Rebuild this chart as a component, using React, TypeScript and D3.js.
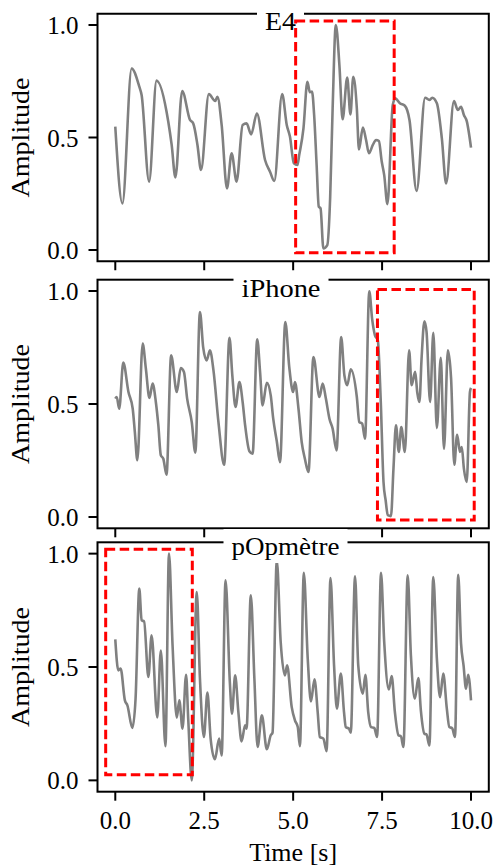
import * as d3 from 'd3'

// time axis ticks (s) and amplitude ticks, shared by the three panels
const timeTicks = [0, 2.5, 5, 7.5, 10]
const ampTicks = [0, 0.5, 1]
const panelTitles = ['E4', 'iPhone', 'pOpmètre']

// normalised signals: [time s, amplitude]
const e4Signal: [number, number][] = [
    [0, 0.548], [0.2, 0.207], [0.46, 0.807], [0.675, 0.726], [0.74, 0.689],
    [0.95, 0.304], [1.16, 0.753], [1.49, 0.57], [1.585, 0.467], [1.69, 0.323],
    [1.88, 0.707], [2.1, 0.578], [2.19, 0.563], [2.31, 0.467], [2.41, 0.356],
    [2.63, 0.693], [2.81, 0.662], [2.87, 0.681], [2.99, 0.556], [3.14, 0.274],
    [3.27, 0.43], [3.41, 0.304], [3.58, 0.556], [3.69, 0.563], [3.82, 0.514],
    [3.98, 0.607], [4.21, 0.4], [4.35, 0.348], [4.47, 0.307], [4.69, 0.693],
    [4.82, 0.556], [4.91, 0.504], [5.02, 0.385], [5.12, 0.378], [5.17, 0.422],
    [5.29, 0.541], [5.4, 0.748], [5.47, 0.701], [5.53, 0.704], [5.59, 0.6],
    [5.66, 0.378], [5.72, 0.193], [5.77, 0.185], [5.85, 0.007], [5.96, 0.022],
    [6.04, 0.231], [6.11, 0.63], [6.2, 1.0], [6.3, 0.822], [6.39, 0.581],
    [6.52, 0.766], [6.61, 0.603], [6.69, 0.77], [6.79, 0.63], [6.85, 0.447],
    [6.96, 0.544], [7.05, 0.489], [7.13, 0.43], [7.24, 0.467], [7.33, 0.489],
    [7.41, 0.484], [7.49, 0.393], [7.56, 0.333], [7.65, 0.204], [7.8, 0.644],
    [7.87, 0.674], [8.0, 0.652], [8.14, 0.641], [8.27, 0.578], [8.47, 0.262],
    [8.71, 0.677], [8.83, 0.667], [8.91, 0.677], [9.04, 0.652], [9.18, 0.496],
    [9.3, 0.296], [9.52, 0.662], [9.63, 0.622], [9.72, 0.637], [9.8, 0.6],
    [9.88, 0.573], [10.0, 0.455],
]

const iphoneSignal: [number, number][] = [
    [0, 0.524], [0.04, 0.531], [0.11, 0.479], [0.225, 0.683], [0.37, 0.553],
    [0.49, 0.479], [0.55, 0.376], [0.62, 0.251], [0.77, 0.767], [0.86, 0.656],
    [0.96, 0.527], [1.05, 0.59], [1.14, 0.509], [1.21, 0.406], [1.28, 0.273],
    [1.35, 0.258], [1.44, 0.187], [1.57, 0.715], [1.73, 0.553], [1.84, 0.659],
    [1.93, 0.642], [2.02, 0.524], [2.15, 0.42], [2.25, 0.285], [2.38, 0.907],
    [2.47, 0.752], [2.57, 0.693], [2.66, 0.738], [2.76, 0.649], [2.9, 0.42],
    [3.06, 0.231], [3.21, 0.793], [3.29, 0.627], [3.38, 0.487], [3.49, 0.597],
    [3.58, 0.509], [3.65, 0.406], [3.77, 0.291], [3.86, 0.28], [3.99, 0.786],
    [4.07, 0.642], [4.14, 0.494], [4.26, 0.594], [4.37, 0.538], [4.44, 0.435],
    [4.54, 0.335], [4.63, 0.243], [4.78, 0.863], [4.89, 0.664], [5.0, 0.553],
    [5.05, 0.597], [5.15, 0.479], [5.24, 0.332], [5.33, 0.258], [5.43, 0.199],
    [5.57, 0.708], [5.74, 0.531], [5.83, 0.59], [5.92, 0.524], [6.02, 0.435],
    [6.11, 0.391], [6.22, 0.295], [6.35, 0.796], [6.44, 0.627], [6.52, 0.583],
    [6.62, 0.653], [6.79, 0.531], [6.86, 0.42], [6.94, 0.413], [7.02, 0.346],
    [7.14, 0.999], [7.22, 0.877], [7.3, 0.804], [7.38, 0.782], [7.46, 0.524],
    [7.54, 0.155], [7.6, 0.074], [7.66, 0.008], [7.75, 0.004], [7.82, 0.214],
    [7.89, 0.406], [7.97, 0.288], [8.04, 0.398], [8.14, 0.288], [8.26, 0.738],
    [8.33, 0.583], [8.43, 0.642], [8.49, 0.55], [8.55, 0.509], [8.61, 0.701],
    [8.69, 0.866], [8.75, 0.819], [8.85, 0.509], [8.94, 0.815], [9.04, 0.394],
    [9.15, 0.704], [9.24, 0.302], [9.35, 0.738], [9.44, 0.612], [9.53, 0.231],
    [9.61, 0.364], [9.69, 0.288], [9.74, 0.31], [9.8, 0.214], [9.88, 0.155],
    [9.97, 0.553], [10.0, 0.571],
]

const popmetreSignal: [number, number][] = [
    [0, 0.622], [0.085, 0.485], [0.15, 0.493], [0.27, 0.353], [0.34, 0.331],
    [0.48, 0.231], [0.57, 0.36], [0.675, 0.846], [0.74, 0.706], [0.81, 0.701],
    [0.93, 0.456], [1.02, 0.64], [1.18, 0.277], [1.28, 0.573], [1.41, 0.151],
    [1.51, 1.0], [1.61, 0.596], [1.73, 0.277], [1.8, 0.353], [1.89, 0.228],
    [1.99, 0.466], [2.05, 0.272], [2.15, 0.0], [2.29, 0.831], [2.38, 0.449],
    [2.49, 0.191], [2.59, 0.387], [2.68, 0.184], [2.8, 0.093], [2.92, 0.184],
    [2.99, 0.11], [3.1, 0.882], [3.22, 0.434], [3.28, 0.294], [3.37, 0.463],
    [3.46, 0.301], [3.55, 0.172], [3.65, 0.243], [3.69, 0.228], [3.81, 0.816],
    [3.91, 0.449], [4.0, 0.147], [4.12, 0.287], [4.26, 0.137], [4.37, 0.199],
    [4.42, 0.21], [4.54, 0.97], [4.65, 0.61], [4.77, 0.463], [4.83, 0.507],
    [4.96, 0.323], [5.05, 0.265], [5.13, 0.235], [5.19, 0.151], [5.3, 0.915],
    [5.41, 0.537], [5.5, 0.348], [5.6, 0.446], [5.69, 0.301], [5.75, 0.191],
    [5.85, 0.184], [5.94, 0.129], [6.05, 0.892], [6.15, 0.507], [6.23, 0.316],
    [6.34, 0.471], [6.43, 0.301], [6.48, 0.235], [6.57, 0.228], [6.62, 0.21],
    [6.74, 0.9], [6.83, 0.507], [6.96, 0.382], [7.03, 0.466], [7.11, 0.301],
    [7.19, 0.235], [7.28, 0.231], [7.36, 0.191], [7.47, 0.915], [7.56, 0.61],
    [7.69, 0.401], [7.77, 0.46], [7.86, 0.301], [7.96, 0.199], [8.03, 0.194],
    [8.1, 0.147], [8.22, 0.904], [8.31, 0.551], [8.42, 0.36], [8.52, 0.451],
    [8.59, 0.309], [8.69, 0.206], [8.75, 0.202], [8.83, 0.154], [8.94, 0.897],
    [9.04, 0.537], [9.13, 0.367], [9.22, 0.471], [9.32, 0.316], [9.39, 0.235],
    [9.47, 0.23], [9.55, 0.191], [9.64, 0.907], [9.72, 0.603], [9.79, 0.507],
    [9.86, 0.404], [9.92, 0.466], [10.0, 0.353],
]

// red dashed highlight zones: [t0, t1, a0, a1]
const e4Zone = [5.07, 7.84, -0.012, 1.018]
const iphoneZone = [7.37, 10.09, -0.013, 1.007]
const popmetreZone = [-0.27, 2.165, 0.025, 1.019]

const signals = [e4Signal, iphoneSignal, popmetreSignal]
const zones = [e4Zone, iphoneZone, popmetreZone]

// layout
const W = 494
const H = 867
const LEFT = 97.5
const RIGHT = 488.8
const FONT = "'Liberation Serif', 'DejaVu Serif', serif"
const txt = { fontFamily: FONT, fontSize: '25px' }
const panelBoxes = [
    { top: 13.75, bottom: 261.25, titleX: 280.5, titleY: 30, titleW: 31 },
    { top: 279.7, bottom: 528.3, titleX: 281, titleY: 297, titleW: 79 },
    { top: 542.3, bottom: 791.7, titleX: 285.5, titleY: 555, titleW: 108 },
]
const TICK = 9

const x = d3.scaleLinear().domain([-0.5, 10.5]).range([LEFT, RIGHT])

function Panel({ idx }: { idx: number }) {
    const box = panelBoxes[idx]
    const y = d3.scaleLinear().domain([-0.05, 1.05]).range([box.bottom, box.top])
    const line = d3
        .line<[number, number]>()
        .x((d) => x(d[0]))
        .y((d) => y(d[1]))
        .curve(d3.curveMonotoneX)
    const z = zones[idx]
    const isLast = idx === panelBoxes.length - 1
    const midY = (box.top + box.bottom) / 2

    return (
        <g>
            <path
                d={line(signals[idx]) || ''}
                fill="none"
                stroke="#808080"
                strokeWidth={2.6}
                strokeLinejoin="round"
            />
            {/* spines */}
            <rect
                x={LEFT}
                y={box.top}
                width={RIGHT - LEFT}
                height={box.bottom - box.top}
                fill="none"
                stroke="#000"
                strokeWidth={2}
            />
            {/* y ticks */}
            {ampTicks.map((t) => (
                <g key={'y' + t}>
                    <line x1={LEFT - TICK} x2={LEFT} y1={y(t)} y2={y(t)} stroke="#000" strokeWidth={2} />
                    <text x={LEFT - TICK - 10} y={y(t) + 9} textAnchor="end" style={txt} fill="#000">
                        {t.toFixed(1)}
                    </text>
                </g>
            ))}
            {/* x ticks */}
            {timeTicks.map((t) => (
                <g key={'x' + t}>
                    <line x1={x(t)} x2={x(t)} y1={box.bottom} y2={box.bottom + TICK} stroke="#000" strokeWidth={2} />
                    {isLast && (
                        <text x={x(t)} y={box.bottom + 37.5} textAnchor="middle" style={txt} fill="#000">
                            {t.toFixed(1)}
                        </text>
                    )}
                </g>
            ))}
            <text
                transform={`translate(29, ${midY}) rotate(-90)`}
                textAnchor="middle"
                style={txt}
                textLength={120}
                lengthAdjust="spacingAndGlyphs"
                fill="#000"
            >
                Amplitude
            </text>
            {/* title with white box over the top spine */}
            <rect
                x={box.titleX - box.titleW / 2 - 8}
                y={box.titleY - 26}
                width={box.titleW + 16}
                height={34}
                fill="#fff"
            />
            <text
                x={box.titleX}
                y={box.titleY}
                textAnchor="middle"
                style={txt}
                textLength={box.titleW}
                lengthAdjust="spacingAndGlyphs"
                fill="#000"
            >
                {panelTitles[idx]}
            </text>
            {/* highlighted zone */}
            <rect
                x={x(z[0])}
                y={y(z[3])}
                width={x(z[1]) - x(z[0])}
                height={y(z[2]) - y(z[3])}
                fill="none"
                stroke="#ff0000"
                strokeWidth={3}
                strokeDasharray="9.5 4.5"
            />
        </g>
    )
}

export default function App() {
    const last = panelBoxes[panelBoxes.length - 1]
    return (
        <svg
            width={W}
            height={H}
            style={{ position: 'absolute', left: 0, top: 0, background: '#fff' }}
        >
            {panelBoxes.map((_, i) => (
                <Panel key={i} idx={i} />
            ))}
            <text
                x={(LEFT + RIGHT) / 2}
                y={last.bottom + 69.5}
                textAnchor="middle"
                style={txt}
                textLength={88}
                lengthAdjust="spacingAndGlyphs"
                fill="#000"
            >
                Time [s]
            </text>
        </svg>
    )
}
